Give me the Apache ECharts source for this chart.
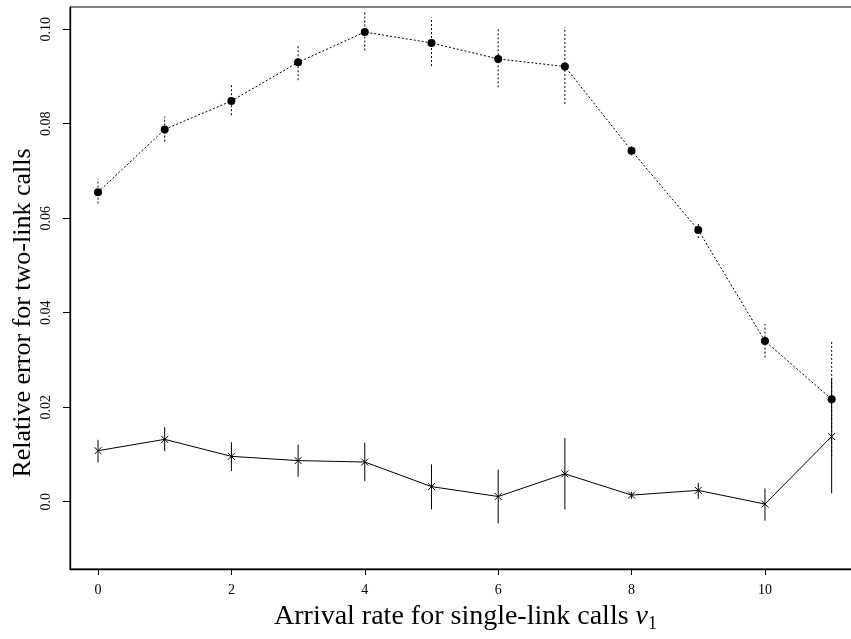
<!DOCTYPE html>
<html>
<head>
<meta charset="utf-8">
<script src="https://cdn.jsdelivr.net/npm/echarts@6/dist/echarts.min.js"></script>
<style>
  html, body { margin: 0; padding: 0; background: #fff; }
  #chart { width: 851px; height: 639px; }
</style>
</head>
<body>
<div id="chart"></div>
<script>
// Arrival rate for single-link calls (x values)
const rates = [0, 1, 2, 3, 4, 5, 6, 7, 8, 9, 10, 11];

// Upper curve (dotted, filled circles): estimate and interval
const upperMean = [0.0655, 0.0788, 0.0848, 0.0930, 0.0994, 0.0971, 0.0937, 0.0921, 0.0743, 0.0575, 0.0340, 0.0217];
const upperLow  = [0.0631, 0.0762, 0.0818, 0.0892, 0.0955, 0.0922, 0.0877, 0.0842, 0.0733, 0.0558, 0.0305, 0.0097];
const upperHigh = [0.0683, 0.0815, 0.0883, 0.0966, 0.1040, 0.1025, 0.1001, 0.1004, 0.0752, 0.0592, 0.0376, 0.0338];

// Lower curve (solid, crosses): estimate and interval
const lowerMean = [0.0108, 0.0132, 0.0096, 0.0087, 0.0084, 0.0032, 0.0011, 0.0059, 0.0014, 0.0024, -0.0005, 0.0138];
const lowerLow  = [0.0083, 0.0107, 0.0065, 0.0053, 0.0044, -0.0016, -0.0046, -0.0016, 0.0006, 0.0006, -0.0040, 0.0018];
const lowerHigh = [0.0131, 0.0158, 0.0126, 0.0121, 0.0125, 0.0079, 0.0068, 0.0135, 0.0021, 0.0040, 0.0028, 0.0261];

// Tick positions
const xTicks = [0, 2, 4, 6, 8, 10];
const yTicks = [0, 0.02, 0.04, 0.06, 0.08, 0.10];

const FONT = '"Liberation Serif", "DejaVu Serif", serif';

const pairs = (xs, ys) => xs.map((x, i) => [x, ys[i]]);
const bars = (xs, lo, hi) => xs.map((x, i) => [x, lo[i], hi[i]]);

function errorBarRenderer(dash) {
  return function (params, api) {
    const x = api.value(0);
    const a = api.coord([x, api.value(1)]);
    const b = api.coord([x, api.value(2)]);
    return {
      type: 'line',
      shape: { x1: a[0], y1: a[1], x2: b[0], y2: b[1] },
      style: { stroke: '#000', lineWidth: 1, lineDash: dash }
    };
  };
}

function crossRenderer(params, api) {
  const c = api.coord([api.value(0), api.value(1)]);
  const r = 3.5;
  return {
    type: 'group',
    children: [
      { type: 'line', shape: { x1: c[0] - r, y1: c[1] - r, x2: c[0] + r, y2: c[1] + r }, style: { stroke: '#000', lineWidth: 1 } },
      { type: 'line', shape: { x1: c[0] - r, y1: c[1] + r, x2: c[0] + r, y2: c[1] - r }, style: { stroke: '#000', lineWidth: 1 } }
    ]
  };
}

const chart = echarts.init(document.getElementById('chart'), null, { renderer: 'canvas' });

chart.setOption({
  animation: false,
  backgroundColor: '#fff',
  grid: {
    left: 70, top: 7, width: 791, height: 562,
    outerBoundsMode: 'none', containLabel: false,
    show: true, borderColor: '#000', borderWidth: 1, backgroundColor: 'transparent'
  },
  xAxis: {
    type: 'value',
    min: -0.42, max: 11.44,
    splitLine: { show: false },
    axisLine: { show: true, onZero: false, lineStyle: { color: '#000', width: 1.3 } },
    axisTick: { show: true, customValues: xTicks, length: 6, inside: false, lineStyle: { color: '#000' } },
    axisLabel: {
      customValues: xTicks, margin: 14,
      fontFamily: FONT, fontSize: 14, color: '#000',
      formatter: v => String(v)
    },
    name: '{a|Arrival rate for single-link calls }{v|ν}{s|1}',
    nameLocation: 'middle', nameGap: 32, nameMoveOverlap: false,
    nameTextStyle: {
      fontFamily: FONT, fontSize: 28, color: '#000',
      rich: {
        a: { fontFamily: FONT, fontSize: 28, lineHeight: 32, color: '#000' },
        v: { fontFamily: FONT, fontSize: 28, lineHeight: 32, fontStyle: 'italic', color: '#000' },
        s: { fontFamily: FONT, fontSize: 18, lineHeight: 15, verticalAlign: 'bottom', color: '#000' }
      }
    }
  },
  yAxis: {
    type: 'value',
    min: -0.01424, max: 0.1047,
    splitLine: { show: false },
    axisLine: { show: true, onZero: false, lineStyle: { color: '#000', width: 1.3 } },
    axisTick: { show: true, customValues: yTicks, length: 7, inside: false, lineStyle: { color: '#000' } },
    axisLabel: {
      customValues: yTicks, rotate: 90, margin: 17,
      fontFamily: FONT, fontSize: 14, color: '#000',
      formatter: v => (Math.abs(v) < 1e-9 ? '0.0' : v.toFixed(2))
    },
    name: 'Relative error for two-link calls',
    nameLocation: 'middle', nameGap: 34, nameRotate: 90, nameMoveOverlap: false,
    nameTextStyle: { fontFamily: FONT, fontSize: 26, color: '#000', padding: [0, 50, 0, 0] }
  },
  series: [
    {
      type: 'custom', name: 'upperBars',
      renderItem: errorBarRenderer([2, 2]),
      data: bars(rates, upperLow, upperHigh), z: 2
    },
    {
      type: 'custom', name: 'lowerBars',
      renderItem: errorBarRenderer(null),
      data: bars(rates, lowerLow, lowerHigh), z: 2
    },
    {
      type: 'line', name: 'upper',
      data: pairs(rates, upperMean),
      symbol: 'circle', symbolSize: 8,
      itemStyle: { color: '#000' },
      lineStyle: { color: '#000', width: 1, type: [2, 2] },
      z: 3
    },
    {
      type: 'line', name: 'lower',
      data: pairs(rates, lowerMean),
      symbol: 'none',
      lineStyle: { color: '#000', width: 1 },
      z: 3
    },
    {
      type: 'custom', name: 'lowerMarks',
      renderItem: crossRenderer,
      data: pairs(rates, lowerMean), z: 4
    }
  ]
});
</script>
</body>
</html>
